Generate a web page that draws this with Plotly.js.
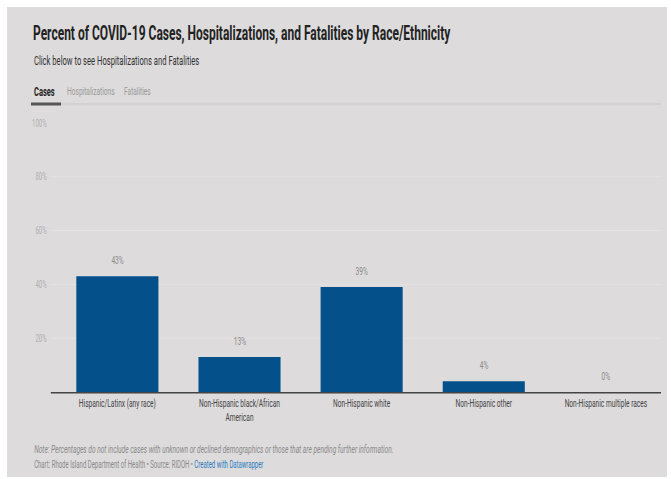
<!DOCTYPE html>
<html>
<head>
<meta charset="utf-8">
<script src="https://cdn.plot.ly/plotly-3.0.1.min.js"></script>
<style>
html,body{margin:0;padding:0;background:#ffffff;overflow:hidden;}
#wrap{position:absolute;left:7px;top:7px;width:1100px;height:470px;background:#dddbdc;transform:scaleX(0.6);transform-origin:0 0;}
#chart{width:1100px;height:470px;}
</style>
</head>
<body>
<div id="wrap"><div id="chart"></div></div>
<script>
const categories = ["Hispanic/Latinx (any race)", "Non-Hispanic black/African<br>American", "Non-Hispanic white", "Non-Hispanic other", "Non-Hispanic multiple races"];
const casesPct = [43, 13, 39, 4, 0];
const yTickVals = [20, 40, 60, 80, 100];
const yTickText = ["20%", "40%", "60%", "80%", "100%"];
const tabs = ["Cases", "Hospitalizations", "Fatalities"];

const FONT = "Roboto, sans-serif";
const SX = 0.6;
const W = 1100, H = 470;
const M = {l: Math.round(44 / SX), r: Math.round(6 / SX), t: 116, b: 85};
const pw = W - M.l - M.r, ph = H - M.t - M.b;
// screen-pixel (relative to wrapper) -> plot-paper coordinates
const px = x => (x / SX - M.l) / pw;
const py = y => (H - M.b - y) / ph;

const annotations = [];
categories.forEach((c, i) => {
  annotations.push({x: c, y: casesPct[i], xref: 'x', yref: 'y', text: casesPct[i] + '%',
    showarrow: false, yshift: 16, font: {family: FONT, size: 11, color: '#8a8a8a'}});
});
annotations.push({xref: 'paper', yref: 'paper', x: px(26), y: py(54), xanchor: 'left', yanchor: 'middle',
  text: 'Click below to see Hospitalizations and Fatalities', showarrow: false,
  font: {family: FONT, size: 12.7, color: '#333333'}});
const tabX = [26, 59, 116];
const tabSize = [12.5, 11, 11];
tabs.forEach((t, i) => {
  annotations.push({xref: 'paper', yref: 'paper', x: px(tabX[i]), y: py(84), xanchor: 'left', yanchor: 'middle',
    text: i === 0 ? '<b>' + t + '</b>' : t, showarrow: false,
    font: {family: FONT, size: tabSize[i], color: i === 0 ? '#222222' : '#9a9a9a'}});
});
annotations.push({xref: 'paper', yref: 'paper', x: px(26), y: py(442), xanchor: 'left', yanchor: 'middle',
  text: '<i>Note: Percentages do not include cases with unknown or declined demographics or those that are pending further information.</i>',
  showarrow: false, font: {family: FONT, size: 11, color: '#8a8a8a'}});
annotations.push({xref: 'paper', yref: 'paper', x: px(26), y: py(458), xanchor: 'left', yanchor: 'middle',
  text: 'Chart: Rhode Island Department of Health • Source: RIDOH • <span style="color:#2a7bbf">Created with Datawrapper</span>',
  showarrow: false, font: {family: FONT, size: 10, color: '#8a8a8a'}});

const shapes = [
  {type: 'line', xref: 'paper', yref: 'paper', x0: px(24), x1: px(654), y0: py(97), y1: py(97),
   line: {color: '#d2d0d1', width: 2}},
  {type: 'line', xref: 'paper', yref: 'paper', x0: px(24), x1: px(54), y0: py(97), y1: py(97),
   line: {color: '#555555', width: 3}}
];

const data = [{
  type: 'bar', x: categories, y: casesPct,
  marker: {color: '#03508b'},
  hoverinfo: 'none'
}];

const layout = {
  width: W, height: H,
  margin: M,
  paper_bgcolor: '#dddbdc', plot_bgcolor: '#dddbdc',
  bargap: 0.328,
  showlegend: false,
  title: {text: '<b>Percent of COVID-19 Cases, Hospitalizations, and Fatalities by Race/Ethnicity</b>',
    xref: 'container', yref: 'container', x: 26 / SX / W, xanchor: 'left', y: 1 - 26 / H, yanchor: 'middle',
    font: {family: FONT, size: 20, color: '#222222'}},
  xaxis: {type: 'category', range: [-0.545, 4.451], showline: true, linecolor: '#444444', linewidth: 1.5, ticks: '',
    tickfont: {family: FONT, size: 11, color: '#444444'}, fixedrange: true, showgrid: false},
  yaxis: {range: [0, 100], tickvals: yTickVals, ticktext: yTickText, showgrid: true, gridcolor: '#e7e5e6',
    gridwidth: 1, zeroline: false, tickfont: {family: FONT, size: 10, color: '#b0aeaf'}, fixedrange: true,
    ticklabelstandoff: 6},
  annotations: annotations,
  shapes: shapes
};
Plotly.newPlot('chart', data, layout, {displayModeBar: false, staticPlot: true});
</script>
</body>
</html>
